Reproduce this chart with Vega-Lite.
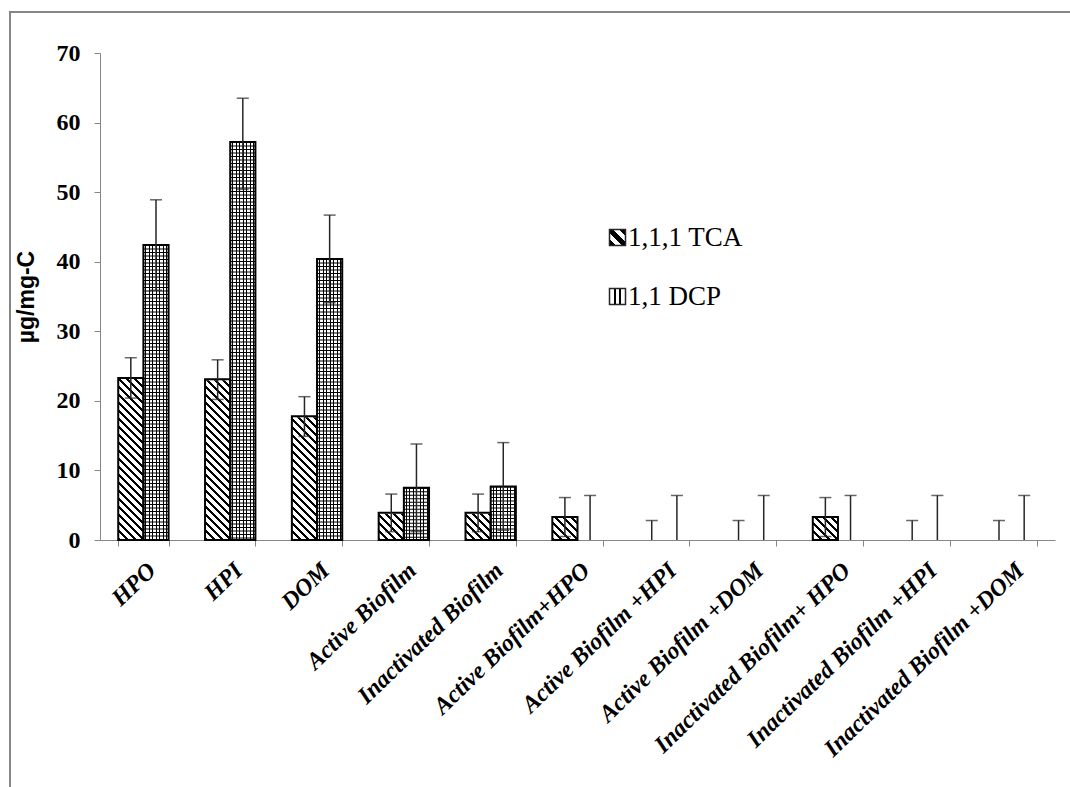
{
  "$schema": "https://vega.github.io/schema/vega-lite/v6.json",
  "width": 1070,
  "height": 787,
  "autosize": {"type": "none"},
  "padding": {"left": 10, "top": 12, "right": 0, "bottom": 0},
  "background": "white",
  "config": {
    "view": {"stroke": "#868686", "strokeWidth": 2},
    "axis": {"grid": false, "domainColor": "#868686", "tickColor": "#868686", "tickSize": 6, "labelColor": "#000", "labelFont": "Liberation Serif", "labelFontWeight": "bold"},
    "axisY": {"offset": -90, "tickCount": 8, "labelPadding": 14, "labelFontSize": 24, "titleFont": "Liberation Sans", "titleFontWeight": "bold", "titleFontSize": 23, "titleColor": "#000", "titlePadding": 18},
    "axisX": {"offset": -259, "tickBand": "extent", "labelAngle": -44, "labelFontSize": 24, "labelFontStyle": "italic", "labelLimit": 0, "labelOverlap": false, "labelPadding": 12}
  },
  "data": {
    "values": [
      {"cat": "HPO", "series": "1,1,1 TCA", "value": 23.3, "lo": 20.4, "hi": 26.2},
      {"cat": "HPO", "series": "1,1 DCP", "value": 42.4, "lo": 35.9, "hi": 48.9},
      {"cat": "HPI", "series": "1,1,1 TCA", "value": 23.1, "lo": 20.2, "hi": 25.9},
      {"cat": "HPI", "series": "1,1 DCP", "value": 57.2, "lo": 50.4, "hi": 63.5},
      {"cat": "DOM", "series": "1,1,1 TCA", "value": 17.8, "lo": 14.9, "hi": 20.6},
      {"cat": "DOM", "series": "1,1 DCP", "value": 40.4, "lo": 34.1, "hi": 46.7},
      {"cat": "Active Biofilm", "series": "1,1,1 TCA", "value": 3.9, "lo": 1.2, "hi": 6.6},
      {"cat": "Active Biofilm", "series": "1,1 DCP", "value": 7.5, "lo": 1.2, "hi": 13.8},
      {"cat": "Inactivated Biofilm", "series": "1,1,1 TCA", "value": 3.9, "lo": 1.2, "hi": 6.6},
      {"cat": "Inactivated Biofilm", "series": "1,1 DCP", "value": 7.7, "lo": 1.4, "hi": 14.0},
      {"cat": "Active Biofilm+HPO", "series": "1,1,1 TCA", "value": 3.3, "lo": 0.5, "hi": 6.1},
      {"cat": "Active Biofilm+HPO", "series": "1,1 DCP", "value": 0, "lo": 0, "hi": 6.4},
      {"cat": "Active  Biofilm +HPI", "series": "1,1,1 TCA", "value": 0, "lo": 0, "hi": 2.8},
      {"cat": "Active  Biofilm +HPI", "series": "1,1 DCP", "value": 0, "lo": 0, "hi": 6.4},
      {"cat": "Active Biofilm +DOM", "series": "1,1,1 TCA", "value": 0, "lo": 0, "hi": 2.8},
      {"cat": "Active Biofilm +DOM", "series": "1,1 DCP", "value": 0, "lo": 0, "hi": 6.4},
      {"cat": "Inactivated Biofilm+ HPO", "series": "1,1,1 TCA", "value": 3.3, "lo": 0.5, "hi": 6.1},
      {"cat": "Inactivated Biofilm+ HPO", "series": "1,1 DCP", "value": 0, "lo": 0, "hi": 6.4},
      {"cat": "Inactivated  Biofilm +HPI", "series": "1,1,1 TCA", "value": 0, "lo": 0, "hi": 2.8},
      {"cat": "Inactivated  Biofilm +HPI", "series": "1,1 DCP", "value": 0, "lo": 0, "hi": 6.4},
      {"cat": "Inactivated Biofilm +DOM", "series": "1,1,1 TCA", "value": 0, "lo": 0, "hi": 2.8},
      {"cat": "Inactivated Biofilm +DOM", "series": "1,1 DCP", "value": 0, "lo": 0, "hi": 6.4}
    ]
  },
  "encoding": {
    "x": {
      "field": "cat", "type": "nominal", "title": null,
      "scale": {"domain": ["HPO", "HPI", "DOM", "Active Biofilm", "Inactivated Biofilm", "Active Biofilm+HPO", "Active  Biofilm +HPI", "Active Biofilm +DOM", "Inactivated Biofilm+ HPO", "Inactivated  Biofilm +HPI", "Inactivated Biofilm +DOM"], "range": [90, 1045], "paddingInner": 0.42, "paddingOuter": 0.21}
    },
    "xOffset": {"field": "series", "type": "nominal", "scale": {"domain": ["1,1,1 TCA", "1,1 DCP"]}}
  },
  "layer": [
    {
      "transform": [{"filter": "datum.series === '1,1,1 TCA' && datum.value > 0"}],
      "mark": {"type": "bar", "strokeWidth": 0, "fill": {"gradient": "linear", "x1": 0, "y1": 1, "x2": 0.0517, "y2": 0, "stops": [
        {"offset": 0, "color": "#000"}, {"offset": 0.0061, "color": "#000"}, {"offset": 0.0061, "color": "#fff"}, {"offset": 0.0164, "color": "#fff"},
        {"offset": 0.0164, "color": "#000"}, {"offset": 0.0225, "color": "#000"}, {"offset": 0.0225, "color": "#fff"}, {"offset": 0.0328, "color": "#fff"},
        {"offset": 0.0328, "color": "#000"}, {"offset": 0.0389, "color": "#000"}, {"offset": 0.0389, "color": "#fff"}, {"offset": 0.0492, "color": "#fff"},
        {"offset": 0.0492, "color": "#000"}, {"offset": 0.0553, "color": "#000"}, {"offset": 0.0553, "color": "#fff"}, {"offset": 0.0655, "color": "#fff"},
        {"offset": 0.0655, "color": "#000"}, {"offset": 0.0717, "color": "#000"}, {"offset": 0.0717, "color": "#fff"}, {"offset": 0.0819, "color": "#fff"},
        {"offset": 0.0819, "color": "#000"}, {"offset": 0.0881, "color": "#000"}, {"offset": 0.0881, "color": "#fff"}, {"offset": 0.0983, "color": "#fff"},
        {"offset": 0.0983, "color": "#000"}, {"offset": 0.1044, "color": "#000"}, {"offset": 0.1044, "color": "#fff"}, {"offset": 0.1147, "color": "#fff"},
        {"offset": 0.1147, "color": "#000"}, {"offset": 0.1208, "color": "#000"}, {"offset": 0.1208, "color": "#fff"}, {"offset": 0.1311, "color": "#fff"},
        {"offset": 0.1311, "color": "#000"}, {"offset": 0.1372, "color": "#000"}, {"offset": 0.1372, "color": "#fff"}, {"offset": 0.1475, "color": "#fff"},
        {"offset": 0.1475, "color": "#000"}, {"offset": 0.1536, "color": "#000"}, {"offset": 0.1536, "color": "#fff"}, {"offset": 0.1638, "color": "#fff"},
        {"offset": 0.1638, "color": "#000"}, {"offset": 0.1700, "color": "#000"}, {"offset": 0.1700, "color": "#fff"}, {"offset": 0.1802, "color": "#fff"},
        {"offset": 0.1802, "color": "#000"}, {"offset": 0.1864, "color": "#000"}, {"offset": 0.1864, "color": "#fff"}, {"offset": 0.1966, "color": "#fff"},
        {"offset": 0.1966, "color": "#000"}, {"offset": 0.2028, "color": "#000"}, {"offset": 0.2028, "color": "#fff"}, {"offset": 0.2130, "color": "#fff"},
        {"offset": 0.2130, "color": "#000"}, {"offset": 0.2191, "color": "#000"}, {"offset": 0.2191, "color": "#fff"}, {"offset": 0.2294, "color": "#fff"},
        {"offset": 0.2294, "color": "#000"}, {"offset": 0.2355, "color": "#000"}, {"offset": 0.2355, "color": "#fff"}, {"offset": 0.2458, "color": "#fff"},
        {"offset": 0.2458, "color": "#000"}, {"offset": 0.2519, "color": "#000"}, {"offset": 0.2519, "color": "#fff"}, {"offset": 0.2621, "color": "#fff"},
        {"offset": 0.2621, "color": "#000"}, {"offset": 0.2683, "color": "#000"}, {"offset": 0.2683, "color": "#fff"}, {"offset": 0.2785, "color": "#fff"},
        {"offset": 0.2785, "color": "#000"}, {"offset": 0.2847, "color": "#000"}, {"offset": 0.2847, "color": "#fff"}, {"offset": 0.2949, "color": "#fff"},
        {"offset": 0.2949, "color": "#000"}, {"offset": 0.3011, "color": "#000"}, {"offset": 0.3011, "color": "#fff"}, {"offset": 0.3113, "color": "#fff"},
        {"offset": 0.3113, "color": "#000"}, {"offset": 0.3174, "color": "#000"}, {"offset": 0.3174, "color": "#fff"}, {"offset": 0.3277, "color": "#fff"},
        {"offset": 0.3277, "color": "#000"}, {"offset": 0.3338, "color": "#000"}, {"offset": 0.3338, "color": "#fff"}, {"offset": 0.3441, "color": "#fff"},
        {"offset": 0.3441, "color": "#000"}, {"offset": 0.3502, "color": "#000"}, {"offset": 0.3502, "color": "#fff"}, {"offset": 0.3604, "color": "#fff"},
        {"offset": 0.3604, "color": "#000"}, {"offset": 0.3666, "color": "#000"}, {"offset": 0.3666, "color": "#fff"}, {"offset": 0.3768, "color": "#fff"},
        {"offset": 0.3768, "color": "#000"}, {"offset": 0.3830, "color": "#000"}, {"offset": 0.3830, "color": "#fff"}, {"offset": 0.3932, "color": "#fff"},
        {"offset": 0.3932, "color": "#000"}, {"offset": 0.3994, "color": "#000"}, {"offset": 0.3994, "color": "#fff"}, {"offset": 1, "color": "#fff"}
      ]}},
      "encoding": {
        "y": {"datum": 70, "type": "quantitative", "title": "µg/mg-C", "scale": {"domain": [0, 70], "range": [528, 41], "nice": false, "zero": true}},
        "y2": {"datum": 0}
      }
    },
    {
      "transform": [{"filter": "datum.series === '1,1,1 TCA' && datum.value > 0"}],
      "mark": {"type": "bar", "fill": "#fff", "stroke": "#fff", "strokeWidth": 2},
      "encoding": {
        "y": {"field": "value", "type": "quantitative", "title": "µg/mg-C", "scale": {"domain": [0, 70], "range": [528, 41], "nice": false, "zero": true}},
        "y2": {"datum": 70}
      }
    },
    {
      "transform": [{"filter": "datum.series === '1,1 DCP' && datum.value > 0"}],
      "mark": {"type": "bar", "strokeWidth": 0, "fill": {"gradient": "linear", "x1": 0, "y1": 0, "x2": 1, "y2": 0, "stops": [
        {"offset": 0, "color": "#fff"}, {"offset": 0.0794, "color": "#fff"}, {"offset": 0.0794, "color": "#000"}, {"offset": 0.1191, "color": "#000"},
        {"offset": 0.1191, "color": "#fff"}, {"offset": 0.2184, "color": "#fff"}, {"offset": 0.2184, "color": "#000"}, {"offset": 0.2581, "color": "#000"},
        {"offset": 0.2581, "color": "#fff"}, {"offset": 0.3574, "color": "#fff"}, {"offset": 0.3574, "color": "#000"}, {"offset": 0.3971, "color": "#000"},
        {"offset": 0.3971, "color": "#fff"}, {"offset": 0.4964, "color": "#fff"}, {"offset": 0.4964, "color": "#000"}, {"offset": 0.5361, "color": "#000"},
        {"offset": 0.5361, "color": "#fff"}, {"offset": 0.6354, "color": "#fff"}, {"offset": 0.6354, "color": "#000"}, {"offset": 0.6751, "color": "#000"},
        {"offset": 0.6751, "color": "#fff"}, {"offset": 0.7744, "color": "#fff"}, {"offset": 0.7744, "color": "#000"}, {"offset": 0.8141, "color": "#000"},
        {"offset": 0.8141, "color": "#fff"}, {"offset": 0.9134, "color": "#fff"}, {"offset": 0.9134, "color": "#000"}, {"offset": 0.9531, "color": "#000"},
        {"offset": 0.9531, "color": "#fff"}, {"offset": 1, "color": "#fff"}
      ]}},
      "encoding": {
        "y": {"field": "value", "type": "quantitative", "title": "µg/mg-C", "scale": {"domain": [0, 70], "range": [528, 41], "nice": false, "zero": true}},
        "y2": {"datum": 0}
      }
    },
    {
      "transform": [{"filter": "datum.series === '1,1 DCP' && datum.value > 0"}],
      "mark": {"type": "rule", "color": "#000", "strokeWidth": 25, "strokeDash": [1, 2.5]},
      "encoding": {
        "y": {"field": "value", "type": "quantitative", "title": "µg/mg-C", "scale": {"domain": [0, 70], "range": [528, 41], "nice": false, "zero": true}},
        "y2": {"datum": 0}
      }
    },
    {
      "transform": [{"filter": "datum.value > 0"}],
      "mark": {"type": "bar", "fill": "transparent", "stroke": "#000", "strokeWidth": 2},
      "encoding": {
        "y": {"field": "value", "type": "quantitative", "title": "µg/mg-C", "scale": {"domain": [0, 70], "range": [528, 41], "nice": false, "zero": true}},
        "y2": {"datum": 0}
      }
    },
    {
      "mark": {"type": "rule", "strokeWidth": 1.5},
      "encoding": {
        "y": {"field": "hi", "type": "quantitative", "title": "µg/mg-C", "scale": {"domain": [0, 70], "range": [528, 41], "nice": false, "zero": true}},
        "y2": {"field": "lo", "title": "µg/mg-C"},
        "stroke": {
          "field": "series", "type": "nominal",
          "scale": {"domain": ["1,1,1 TCA", "1,1 DCP"], "range": ["#262626", "#262626"]},
          "legend": {
            "title": null, "orient": "none", "legendX": 594, "legendY": 212, "zindex": 1, "padding": 0,
            "symbolType": "square", "symbolSize": 256, "symbolStrokeWidth": 1.5,
            "symbolFillColor": {"expr": "datum.value === '1,1,1 TCA' ? {gradient: 'linear', x1: 0, y1: 1, x2: 1, y2: 0, stops: [{offset: 0, color: '#000'}, {offset: 0.2, color: '#000'}, {offset: 0.2, color: '#fff'}, {offset: 0.4, color: '#fff'}, {offset: 0.4, color: '#000'}, {offset: 0.6, color: '#000'}, {offset: 0.6, color: '#fff'}, {offset: 0.8, color: '#fff'}, {offset: 0.8, color: '#000'}, {offset: 1, color: '#000'}]} : {gradient: 'linear', x1: 0, y1: 0, x2: 1, y2: 0, stops: [{offset: 0, color: '#fff'}, {offset: 0.28, color: '#fff'}, {offset: 0.28, color: '#000'}, {offset: 0.4, color: '#000'}, {offset: 0.4, color: '#fff'}, {offset: 0.6, color: '#fff'}, {offset: 0.6, color: '#000'}, {offset: 0.72, color: '#000'}, {offset: 0.72, color: '#fff'}, {offset: 1, color: '#fff'}]}"},
            "labelFont": "Liberation Serif", "labelFontSize": 27, "labelColor": "#000", "labelOffset": -3, "rowPadding": 31
          }
        }
      }
    },
    {
      "mark": {"type": "tick", "color": "#262626", "size": 12, "thickness": 1.5},
      "encoding": {
        "y": {"field": "hi", "type": "quantitative", "title": "µg/mg-C", "scale": {"domain": [0, 70], "range": [528, 41], "nice": false, "zero": true}}
      }
    },
    {
      "transform": [{"filter": "datum.lo > 0"}],
      "mark": {"type": "tick", "color": "#262626", "size": 12, "thickness": 1.5},
      "encoding": {
        "y": {"field": "lo", "type": "quantitative", "title": "µg/mg-C", "scale": {"domain": [0, 70], "range": [528, 41], "nice": false, "zero": true}}
      }
    }
  ]
}
